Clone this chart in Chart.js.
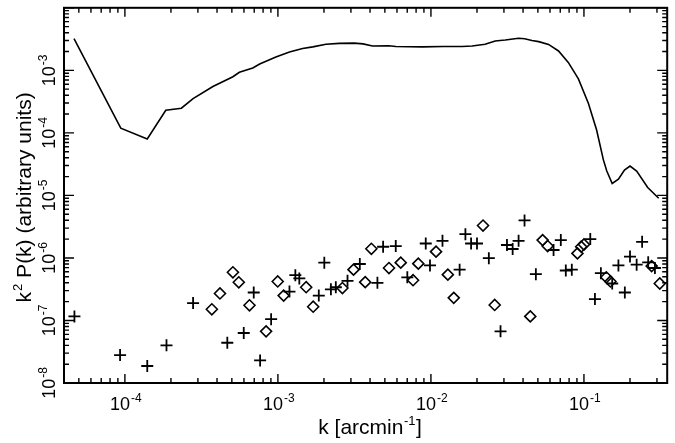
<!DOCTYPE html>
<html>
<head>
<meta charset="utf-8">
<script src="https://cdn.jsdelivr.net/npm/chart.js@4.4.1/dist/chart.umd.min.js"></script>
<style>
  html, body { margin: 0; padding: 0; background: #fff; }
  #wrap { width: 675px; height: 443px; position: relative; }
</style>
</head>
<body>
<div id="wrap"><canvas id="pkChart"></canvas></div>
<script>
// -------------------------
// DATA
// -------------------------

// model curve
const curveK = [4.65e-5, 9.4e-5, 1.4e-4, 1.85e-4, 2.34e-4, 2.79e-4, 3.76e-4, 5.08e-4, 5.6e-4, 6.85e-4,
                7.6e-4, 9.7e-4, 1.19e-3, 1.45e-3, 1.69e-3, 2.06e-3, 2.52e-3, 3.15e-3, 3.6e-3, 4.15e-3,
                5.3e-3, 5.9e-3, 8.8e-3, 1.2e-2, 1.6e-2, 1.86e-2, 2.26e-2, 2.63e-2, 3.06e-2, 3.74e-2,
                4.1e-2, 4.57e-2, 5.06e-2, 5.87e-2, 6.82e-2, 7.9e-2, 9.2e-2, 0.107, 0.121, 0.134,
                0.141, 0.153, 0.168, 0.184, 0.200, 0.221, 0.261, 0.308];
const curveP = [3.2e-3, 1.19e-4, 8.0e-5, 2.3e-4, 2.48e-4, 3.53e-4, 5.5e-4, 7.9e-4, 9.3e-4, 1.09e-3,
                1.26e-3, 1.64e-3, 1.97e-3, 2.23e-3, 2.37e-3, 2.61e-3, 2.70e-3, 2.72e-3, 2.65e-3, 2.45e-3,
                2.47e-3, 2.40e-3, 2.37e-3, 2.40e-3, 2.40e-3, 2.45e-3, 2.62e-3, 2.95e-3, 3.05e-3, 3.25e-3,
                3.2e-3, 3.0e-3, 2.88e-3, 2.6e-3, 2.04e-3, 1.34e-3, 7.3e-4, 2.95e-4, 1.11e-4, 3.7e-5,
                2.45e-5, 1.55e-5, 1.81e-5, 2.54e-5, 2.95e-5, 2.45e-5, 1.34e-5, 9.0e-6];

// "+" points
const plusK = [4.68e-5, 9.3e-5, 1.40e-4, 1.87e-4, 2.79e-4, 4.67e-4, 5.98e-4, 6.95e-4, 7.65e-4, 9.03e-4,
               1.19e-3, 1.30e-3, 1.38e-3, 1.85e-3, 2.01e-3, 2.22e-3, 2.39e-3, 2.85e-3, 3.43e-3, 4.47e-3,
               4.87e-3, 5.89e-3, 7.01e-3, 9.25e-3, 9.86e-3, 1.19e-2, 1.54e-2, 1.68e-2, 1.83e-2, 2.00e-2,
               2.39e-2, 2.85e-2, 3.14e-2, 3.42e-2, 3.74e-2, 4.09e-2, 4.85e-2, 6.33e-2, 7.06e-2, 7.61e-2,
               8.33e-2, 0.110, 0.118, 0.129, 0.153, 0.168, 0.185, 0.200, 0.221, 0.240, 0.263, 0.291];
const plusP = [1.16e-7, 2.8e-8, 1.87e-8, 4.0e-8, 1.9e-7, 4.4e-8, 6.3e-8, 2.8e-7, 2.3e-8, 1.05e-7,
               2.9e-7, 5.3e-7, 4.7e-7, 2.5e-7, 8.4e-7, 3.15e-7, 3.4e-7, 4.3e-7, 8.0e-7, 4.0e-7,
               1.51e-6, 1.55e-6, 4.9e-7, 1.70e-6, 7.6e-7, 1.88e-6, 6.5e-7, 2.4e-6, 1.70e-6, 1.70e-6,
               9.9e-7, 6.7e-8, 1.61e-6, 1.39e-6, 1.88e-6, 3.98e-6, 5.5e-7, 1.34e-6, 1.93e-6, 6.3e-7,
               6.5e-7, 2.0e-6, 2.2e-7, 5.7e-7, 3.9e-7, 7.6e-7, 2.8e-7, 1.05e-6, 7.8e-7, 1.81e-6, 8.5e-7, 6.9e-7];

// diamond points
const diamondK = [3.7e-4, 4.18e-4, 5.08e-4, 5.55e-4, 6.52e-4, 8.37e-4, 9.97e-4, 1.09e-3, 1.53e-3, 1.70e-3,
                  2.64e-3, 3.12e-3, 3.72e-3, 4.08e-3, 5.32e-3, 6.35e-3, 7.64e-3, 8.27e-3, 1.08e-2, 1.29e-2,
                  1.41e-2, 2.19e-2, 2.61e-2, 4.46e-2, 5.37e-2, 5.79e-2, 9.07e-2, 9.59e-2, 0.100, 0.140,
                  0.149, 0.277, 0.313];
const diamondP = [1.51e-7, 2.7e-7, 5.9e-7, 4.08e-7, 1.75e-7, 6.7e-8, 4.2e-7, 2.5e-7, 3.4e-7, 1.66e-7,
                  3.3e-7, 6.5e-7, 4.1e-7, 1.40e-6, 6.9e-7, 8.4e-7, 4.4e-7, 8.1e-7, 1.26e-6, 5.4e-7,
                  2.3e-7, 3.3e-6, 1.77e-7, 1.16e-7, 1.93e-6, 1.55e-6, 1.18e-6, 1.51e-6, 1.64e-6, 4.9e-7,
                  4.2e-7, 7.4e-7, 3.9e-7];

// axes
const xMin = 4e-5, xMax = 0.35;
const yMin = 1e-8, yMax = 1e-2;
const xLabelExps = [-4, -3, -2, -1];
const yLabelExps = [-8, -7, -6, -5, -4, -3];

const FONT = '"Liberation Sans", Arial, Helvetica, sans-serif';

function toPoints(xs, ys) {
    return xs.map((x, i) => ({ x: x, y: ys[i] }));
}

// all 1..9 x 10^n ticks inside [lo, hi]
function logTicks(lo, hi) {
    const out = [];
    for (let d = Math.floor(Math.log10(lo)); d <= Math.ceil(Math.log10(hi)); d++) {
        for (let m = 1; m <= 9; m++) {
            const v = m * Math.pow(10, d);
            if (v >= lo * 0.9999 && v <= hi * 1.0001) out.push({ v: v, major: m === 1 });
        }
    }
    return out;
}

// "10" with a raised exponent, centred on cx
function drawPow(ctx, exp, cx, baseY) {
    const sup = '-' + Math.abs(exp);
    ctx.font = '18px ' + FONT;
    const wb = ctx.measureText('10').width;
    ctx.font = '12px ' + FONT;
    const ws = ctx.measureText(sup).width;
    const x0 = cx - (wb + ws + 1) / 2;
    ctx.font = '18px ' + FONT;
    ctx.fillText('10', x0, baseY);
    ctx.font = '12px ' + FONT;
    ctx.fillText(sup, x0 + wb + 1, baseY - 8);
}

// -------------------------
// FRAME, INWARD TICKS, LABELS
// -------------------------

const framePlugin = {
    id: 'frameAxes',
    afterDraw(chart) {
        const ctx = chart.ctx;
        const a = chart.chartArea;
        const xs = chart.scales.x, ys = chart.scales.y;
        ctx.save();
        ctx.strokeStyle = '#000';
        ctx.fillStyle = '#000';

        ctx.lineWidth = 2;
        ctx.strokeRect(a.left, a.top, a.right - a.left, a.bottom - a.top);

        ctx.lineWidth = 1.4;
        ctx.beginPath();
        logTicks(xMin, xMax).forEach(t => {
            const px = xs.getPixelForValue(t.v);
            const len = t.major ? 9 : 5;
            ctx.moveTo(px, a.bottom); ctx.lineTo(px, a.bottom - len);
            ctx.moveTo(px, a.top); ctx.lineTo(px, a.top + len);
        });
        logTicks(yMin, yMax).forEach(t => {
            const py = ys.getPixelForValue(t.v);
            const len = t.major ? 10 : 5;
            ctx.moveTo(a.left, py); ctx.lineTo(a.left + len, py);
            ctx.moveTo(a.right, py); ctx.lineTo(a.right - len, py);
        });
        ctx.stroke();

        ctx.textAlign = 'left';
        ctx.textBaseline = 'alphabetic';
        xLabelExps.forEach(e => {
            drawPow(ctx, e, xs.getPixelForValue(Math.pow(10, e)) + 1, a.bottom + 27);
        });
        yLabelExps.forEach(e => {
            const py = ys.getPixelForValue(Math.pow(10, e));
            ctx.save();
            ctx.translate(a.left - 9, py);
            ctx.rotate(-Math.PI / 2);
            drawPow(ctx, e, 0, 0);
            ctx.restore();
        });

        // x title: k [arcmin^-1]
        ctx.font = '21px ' + FONT;
        const t1 = 'k [arcmin', t2 = '-1', t3 = ']';
        const w1 = ctx.measureText(t1).width, w3 = ctx.measureText(t3).width;
        ctx.font = '13px ' + FONT;
        const w2 = ctx.measureText(t2).width;
        let x0 = 370 - (w1 + w2 + w3 + 1) / 2;
        const by = a.bottom + 51;
        ctx.font = '21px ' + FONT;
        ctx.fillText(t1, x0, by);
        ctx.font = '13px ' + FONT;
        ctx.fillText(t2, x0 + w1 + 0.5, by - 9);
        ctx.font = '21px ' + FONT;
        ctx.fillText(t3, x0 + w1 + w2 + 1, by);

        // y title: k^2 P(k) (arbitrary units)
        ctx.save();
        ctx.translate(31, (a.top + a.bottom) / 2 + 2);
        ctx.rotate(-Math.PI / 2);
        ctx.font = '21px ' + FONT;
        const s1 = 'k', s3 = ' P(k) (arbitrary units)';
        const v1 = ctx.measureText(s1).width, v3 = ctx.measureText(s3).width;
        ctx.font = '13px ' + FONT;
        const v2 = ctx.measureText('2').width;
        const y0 = -(v1 + v2 + v3 + 1) / 2;
        ctx.font = '21px ' + FONT;
        ctx.fillText(s1, y0, 0);
        ctx.font = '13px ' + FONT;
        ctx.fillText('2', y0 + v1 + 1, -9);
        ctx.font = '21px ' + FONT;
        ctx.fillText(s3, y0 + v1 + v2 + 1, 0);
        ctx.restore();

        ctx.restore();
    }
};

// -------------------------
// CHART
// -------------------------

new Chart(document.getElementById('pkChart'), {
    type: 'scatter',
    data: {
        datasets: [
            {
                type: 'line',
                data: toPoints(curveK, curveP),
                borderColor: '#000',
                borderWidth: 1.6,
                pointRadius: 0,
                tension: 0,
                fill: false
            },
            {
                data: toPoints(plusK, plusP),
                pointStyle: 'cross',
                pointRadius: 6,
                borderColor: '#000',
                borderWidth: 1.8,
                showLine: false
            },
            {
                data: toPoints(diamondK, diamondP),
                pointStyle: 'rectRot',
                pointRadius: 5.5,
                borderColor: '#000',
                backgroundColor: 'rgba(0,0,0,0)',
                borderWidth: 1.6,
                showLine: false
            }
        ]
    },
    options: {
        responsive: true,
        maintainAspectRatio: false,
        animation: false,
        layout: { padding: { left: 64, right: 6, top: 3, bottom: 60 } },
        plugins: { legend: { display: false }, tooltip: { enabled: false } },
        scales: {
            x: { type: 'logarithmic', min: xMin, max: xMax, display: false },
            y: { type: 'logarithmic', min: yMin, max: yMax, display: false }
        }
    },
    plugins: [framePlugin]
});
</script>
</body>
</html>
